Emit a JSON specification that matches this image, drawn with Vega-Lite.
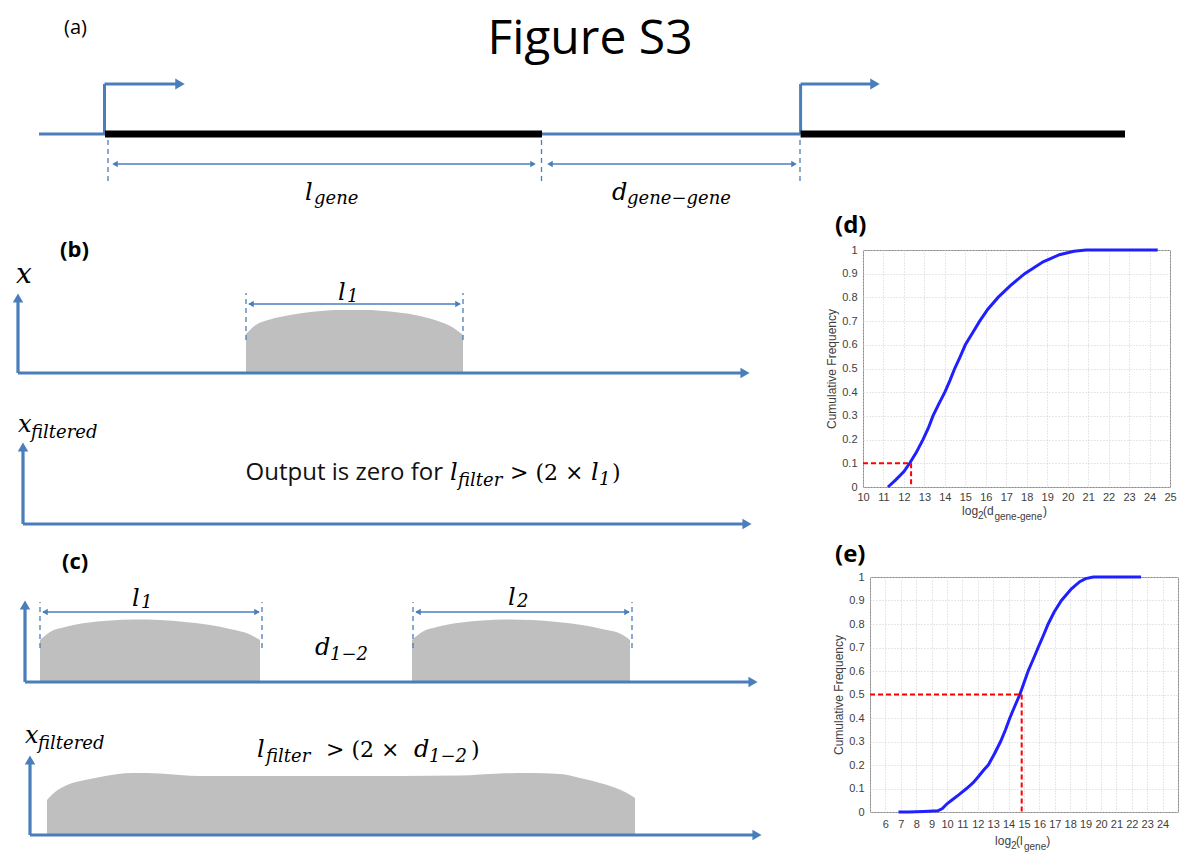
{
  "$schema": "https://vega.github.io/schema/vega-lite/v6.json",
  "padding": 0,
  "background": "white",
  "spacing": 0,
  "bounds": "flush",
  "config": {"view": {"stroke": null}},
  "datasets": {
    "segA": [
      {"x": 3.9, "x2": 10.5, "y": 11.6, "y2": 11.6, "kind": "dna"},
      {"x": 54.2, "x2": 80.06, "y": 11.6, "y2": 11.6, "kind": "dna"},
      {"x": 10.5, "x2": 54.2, "y": 11.6, "y2": 11.6, "kind": "gene"},
      {"x": 80.06, "x2": 112.5, "y": 11.6, "y2": 11.6, "kind": "gene"},
      {"x": 10.45, "x2": 10.45, "y": 11.6, "y2": 16.6, "kind": "promoter"},
      {"x": 10.45, "x2": 17.6, "y": 16.6, "y2": 16.6, "kind": "promoter"},
      {"x": 80.06, "x2": 80.06, "y": 11.6, "y2": 16.6, "kind": "promoter"},
      {"x": 80.06, "x2": 87.1, "y": 16.6, "y2": 16.6, "kind": "promoter"},
      {"x": 10.8, "x2": 10.8, "y": 11.0, "y2": 6.6, "kind": "guide"},
      {"x": 54.15, "x2": 54.15, "y": 11.0, "y2": 6.6, "kind": "guide"},
      {"x": 80.0, "x2": 80.0, "y": 11.0, "y2": 6.6, "kind": "guide"},
      {"x": 11.4, "x2": 53.4, "y": 8.6, "y2": 8.6, "kind": "dim"},
      {"x": 54.9, "x2": 79.5, "y": 8.6, "y2": 8.6, "kind": "dim"}
    ],
    "headA": [
      {"x": 18.0, "y": 16.6, "dir": "right", "kind": "big"},
      {"x": 87.5, "y": 16.6, "dir": "right", "kind": "big"},
      {"x": 11.5, "y": 8.6, "dir": "left", "kind": "small"},
      {"x": 53.3, "y": 8.6, "dir": "right", "kind": "small"},
      {"x": 55.0, "y": 8.6, "dir": "left", "kind": "small"},
      {"x": 79.4, "y": 8.6, "dir": "right", "kind": "small"}
    ],
    "txtA": [
      {"x": 7.55, "y": 21.6, "t": "(a)", "kind": "panel"},
      {"x": 59.0, "y": 19.6, "t": "Figure S3", "kind": "heading"},
      {"x": 30.5, "y": 5.0, "t": "l", "kind": "main"},
      {"x": 31.4, "y": 4.6, "t": "gene", "kind": "sub"},
      {"x": 61.2, "y": 5.0, "t": "d", "kind": "main"},
      {"x": 62.7, "y": 4.6, "t": "gene−gene", "kind": "sub"}
    ],
    "segBC": [
      {"x": 1.8, "x2": 1.8, "y": 48.1, "y2": 55.3, "kind": "axis"},
      {"x": 1.8, "x2": 74.3, "y": 48.1, "y2": 48.1, "kind": "axis"},
      {"x": 2.3, "x2": 2.3, "y": 33.0, "y2": 40.4, "kind": "axis"},
      {"x": 2.3, "x2": 74.5, "y": 33.0, "y2": 33.0, "kind": "axis"},
      {"x": 2.5, "x2": 2.5, "y": 17.2, "y2": 24.6, "kind": "axis"},
      {"x": 2.5, "x2": 75.1, "y": 17.2, "y2": 17.2, "kind": "axis"},
      {"x": 3.0, "x2": 3.0, "y": 1.9, "y2": 9.1, "kind": "axis"},
      {"x": 3.0, "x2": 75.5, "y": 1.9, "y2": 1.9, "kind": "axis"},
      {"x": 24.6, "x2": 24.6, "y": 51.4, "y2": 56.1, "kind": "guide"},
      {"x": 46.3, "x2": 46.3, "y": 51.4, "y2": 56.1, "kind": "guide"},
      {"x": 4.0, "x2": 4.0, "y": 20.6, "y2": 25.2, "kind": "guide"},
      {"x": 26.2, "x2": 26.2, "y": 20.6, "y2": 25.2, "kind": "guide"},
      {"x": 41.3, "x2": 41.3, "y": 20.6, "y2": 25.2, "kind": "guide"},
      {"x": 63.2, "x2": 63.2, "y": 20.6, "y2": 25.2, "kind": "guide"},
      {"x": 24.9, "x2": 46.0, "y": 55.0, "y2": 55.0, "kind": "dim"},
      {"x": 4.3, "x2": 25.9, "y": 24.2, "y2": 24.2, "kind": "dim"},
      {"x": 41.6, "x2": 62.9, "y": 24.2, "y2": 24.2, "kind": "dim"}
    ],
    "headBC": [
      {"x": 1.8, "y": 55.6, "dir": "up", "kind": "big"},
      {"x": 74.5, "y": 48.1, "dir": "right", "kind": "big"},
      {"x": 2.3, "y": 40.7, "dir": "up", "kind": "big"},
      {"x": 74.7, "y": 33.0, "dir": "right", "kind": "big"},
      {"x": 2.5, "y": 24.9, "dir": "up", "kind": "big"},
      {"x": 75.3, "y": 17.2, "dir": "right", "kind": "big"},
      {"x": 3.0, "y": 9.4, "dir": "up", "kind": "big"},
      {"x": 75.7, "y": 1.9, "dir": "right", "kind": "big"},
      {"x": 25.1, "y": 55.0, "dir": "left", "kind": "small"},
      {"x": 45.8, "y": 55.0, "dir": "right", "kind": "small"},
      {"x": 4.5, "y": 24.2, "dir": "left", "kind": "small"},
      {"x": 25.7, "y": 24.2, "dir": "right", "kind": "small"},
      {"x": 41.8, "y": 24.2, "dir": "left", "kind": "small"},
      {"x": 62.7, "y": 24.2, "dir": "right", "kind": "small"}
    ],
    "bumps": [
      {"bump": "b1", "x": 24.6, "y": 52.0, "base": 48.1},
      {"bump": "b1", "x": 25.5, "y": 52.85, "base": 48.1},
      {"bump": "b1", "x": 27.0, "y": 53.45, "base": 48.1},
      {"bump": "b1", "x": 29.0, "y": 53.9, "base": 48.1},
      {"bump": "b1", "x": 31.5, "y": 54.25, "base": 48.1},
      {"bump": "b1", "x": 34.0, "y": 54.4, "base": 48.1},
      {"bump": "b1", "x": 36.5, "y": 54.4, "base": 48.1},
      {"bump": "b1", "x": 39.0, "y": 54.25, "base": 48.1},
      {"bump": "b1", "x": 41.5, "y": 53.9, "base": 48.1},
      {"bump": "b1", "x": 43.5, "y": 53.4, "base": 48.1},
      {"bump": "b1", "x": 45.2, "y": 52.7, "base": 48.1},
      {"bump": "b1", "x": 46.3, "y": 51.9, "base": 48.1},
      {"bump": "c1", "x": 4.0, "y": 21.4, "base": 17.2},
      {"bump": "c1", "x": 5.0, "y": 22.2, "base": 17.2},
      {"bump": "c1", "x": 6.5, "y": 22.7, "base": 17.2},
      {"bump": "c1", "x": 8.5, "y": 23.1, "base": 17.2},
      {"bump": "c1", "x": 11.0, "y": 23.35, "base": 17.2},
      {"bump": "c1", "x": 13.5, "y": 23.45, "base": 17.2},
      {"bump": "c1", "x": 16.0, "y": 23.4, "base": 17.2},
      {"bump": "c1", "x": 18.5, "y": 23.2, "base": 17.2},
      {"bump": "c1", "x": 21.0, "y": 22.9, "base": 17.2},
      {"bump": "c1", "x": 23.0, "y": 22.5, "base": 17.2},
      {"bump": "c1", "x": 25.0, "y": 21.95, "base": 17.2},
      {"bump": "c1", "x": 26.0, "y": 21.4, "base": 17.2},
      {"bump": "c2", "x": 41.2, "y": 21.4, "base": 17.2},
      {"bump": "c2", "x": 42.2, "y": 22.2, "base": 17.2},
      {"bump": "c2", "x": 43.7, "y": 22.7, "base": 17.2},
      {"bump": "c2", "x": 45.7, "y": 23.1, "base": 17.2},
      {"bump": "c2", "x": 48.2, "y": 23.35, "base": 17.2},
      {"bump": "c2", "x": 50.7, "y": 23.45, "base": 17.2},
      {"bump": "c2", "x": 53.2, "y": 23.4, "base": 17.2},
      {"bump": "c2", "x": 55.7, "y": 23.2, "base": 17.2},
      {"bump": "c2", "x": 58.2, "y": 22.9, "base": 17.2},
      {"bump": "c2", "x": 60.2, "y": 22.5, "base": 17.2},
      {"bump": "c2", "x": 62.2, "y": 21.95, "base": 17.2},
      {"bump": "c2", "x": 63.0, "y": 21.4, "base": 17.2},
      {"bump": "c3", "x": 4.7, "y": 5.4, "base": 1.9},
      {"bump": "c3", "x": 5.5, "y": 6.2, "base": 1.9},
      {"bump": "c3", "x": 6.7, "y": 6.9, "base": 1.9},
      {"bump": "c3", "x": 8.5, "y": 7.4, "base": 1.9},
      {"bump": "c3", "x": 10.0, "y": 7.7, "base": 1.9},
      {"bump": "c3", "x": 13.3, "y": 8.1, "base": 1.9},
      {"bump": "c3", "x": 16.0, "y": 8.05, "base": 1.9},
      {"bump": "c3", "x": 18.0, "y": 7.9, "base": 1.9},
      {"bump": "c3", "x": 20.0, "y": 7.8, "base": 1.9},
      {"bump": "c3", "x": 30.0, "y": 7.8, "base": 1.9},
      {"bump": "c3", "x": 40.0, "y": 7.8, "base": 1.9},
      {"bump": "c3", "x": 46.0, "y": 7.85, "base": 1.9},
      {"bump": "c3", "x": 50.0, "y": 8.05, "base": 1.9},
      {"bump": "c3", "x": 53.0, "y": 8.1, "base": 1.9},
      {"bump": "c3", "x": 56.0, "y": 8.0, "base": 1.9},
      {"bump": "c3", "x": 58.0, "y": 7.6, "base": 1.9},
      {"bump": "c3", "x": 60.0, "y": 7.1, "base": 1.9},
      {"bump": "c3", "x": 61.3, "y": 6.7, "base": 1.9},
      {"bump": "c3", "x": 62.5, "y": 6.2, "base": 1.9},
      {"bump": "c3", "x": 63.5, "y": 5.6, "base": 1.9}
    ],
    "txtBC": [
      {"x": 6.0, "y": 59.7, "t": "(b)", "kind": "bold"},
      {"x": 6.2, "y": 28.5, "t": "(c)", "kind": "bold"},
      {"x": 1.6, "y": 57.1, "t": "x", "kind": "var"},
      {"x": 33.8, "y": 55.4, "t": "l", "kind": "main"},
      {"x": 34.7, "y": 55.2, "t": "1", "kind": "sub"},
      {"x": 1.8, "y": 42.2, "t": "x", "kind": "main"},
      {"x": 3.1, "y": 41.6, "t": "filtered", "kind": "sub"},
      {"x": 44.3, "y": 37.4, "t": "Output is zero for", "kind": "prose"},
      {"x": 45.0, "y": 37.4, "t": "l", "kind": "main"},
      {"x": 45.8, "y": 36.8, "t": "filter", "kind": "sub"},
      {"x": 51.0, "y": 37.4, "t": "> (2 ×", "kind": "rel"},
      {"x": 59.1, "y": 37.4, "t": "l", "kind": "main"},
      {"x": 59.9, "y": 36.9, "t": "1", "kind": "sub"},
      {"x": 61.2, "y": 37.4, "t": ")", "kind": "rel"},
      {"x": 13.2, "y": 24.8, "t": "l", "kind": "main"},
      {"x": 14.1, "y": 24.6, "t": "1", "kind": "sub"},
      {"x": 50.8, "y": 24.9, "t": "l", "kind": "main"},
      {"x": 51.7, "y": 24.7, "t": "2", "kind": "sub"},
      {"x": 31.5, "y": 19.9, "t": "d", "kind": "main"},
      {"x": 33.0, "y": 19.4, "t": "1−2", "kind": "sub"},
      {"x": 2.5, "y": 11.1, "t": "x", "kind": "main"},
      {"x": 3.8, "y": 10.5, "t": "filtered", "kind": "sub"},
      {"x": 25.7, "y": 9.7, "t": "l", "kind": "main"},
      {"x": 26.6, "y": 9.2, "t": "filter", "kind": "sub"},
      {"x": 32.6, "y": 9.7, "t": "> (2 ×", "kind": "rel"},
      {"x": 41.4, "y": 9.7, "t": "d", "kind": "main"},
      {"x": 42.9, "y": 9.2, "t": "1−2", "kind": "sub"},
      {"x": 47.1, "y": 9.7, "t": ")", "kind": "rel"}
    ],
    "curveD": [
      {"x": 11.22, "y": 0}, {"x": 11.6, "y": 0.03}, {"x": 12.0, "y": 0.065}, {"x": 12.28, "y": 0.1},
      {"x": 12.6, "y": 0.145}, {"x": 12.93, "y": 0.2}, {"x": 13.2, "y": 0.25}, {"x": 13.42, "y": 0.3},
      {"x": 13.7, "y": 0.35}, {"x": 14.0, "y": 0.4}, {"x": 14.25, "y": 0.45}, {"x": 14.48, "y": 0.5},
      {"x": 14.75, "y": 0.55}, {"x": 15.0, "y": 0.6}, {"x": 15.35, "y": 0.65}, {"x": 15.7, "y": 0.7},
      {"x": 16.1, "y": 0.75}, {"x": 16.6, "y": 0.8}, {"x": 17.2, "y": 0.85}, {"x": 17.9, "y": 0.9},
      {"x": 18.8, "y": 0.95}, {"x": 19.6, "y": 0.98}, {"x": 20.3, "y": 0.995}, {"x": 20.9, "y": 1.0},
      {"x": 22.5, "y": 1.0}, {"x": 24.4, "y": 1.0}
    ],
    "guideD": [
      {"x": 10, "x2": 12.35, "y": 0.1, "y2": 0.1},
      {"x": 12.35, "x2": 12.35, "y": 0.1, "y2": 0}
    ],
    "txtD": [
      {"x": 14.84, "y": -0.118, "t": "log", "kind": "main"},
      {"x": 15.62, "y": -0.135, "t": "2", "kind": "sub"},
      {"x": 15.86, "y": -0.118, "t": "(d", "kind": "main"},
      {"x": 16.42, "y": -0.139, "t": "gene-gene", "kind": "sub"},
      {"x": 18.8, "y": -0.118, "t": ")", "kind": "main"}
    ],
    "curveE": [
      {"x": 6.85, "y": 0}, {"x": 7.5, "y": 0}, {"x": 8.5, "y": 0.002}, {"x": 9.4, "y": 0.005},
      {"x": 9.7, "y": 0.015}, {"x": 10.0, "y": 0.035}, {"x": 10.3, "y": 0.05}, {"x": 10.8, "y": 0.075},
      {"x": 11.27, "y": 0.1}, {"x": 11.7, "y": 0.125}, {"x": 12.03, "y": 0.15}, {"x": 12.4, "y": 0.18},
      {"x": 12.68, "y": 0.2}, {"x": 13.1, "y": 0.25}, {"x": 13.48, "y": 0.3}, {"x": 13.8, "y": 0.35},
      {"x": 14.08, "y": 0.4}, {"x": 14.4, "y": 0.45}, {"x": 14.73, "y": 0.5}, {"x": 15.0, "y": 0.55},
      {"x": 15.27, "y": 0.6}, {"x": 15.6, "y": 0.65}, {"x": 15.92, "y": 0.7}, {"x": 16.25, "y": 0.75},
      {"x": 16.57, "y": 0.8}, {"x": 16.95, "y": 0.85}, {"x": 17.43, "y": 0.9}, {"x": 18.08, "y": 0.95},
      {"x": 18.62, "y": 0.98}, {"x": 19.0, "y": 0.993}, {"x": 19.5, "y": 1.0}, {"x": 21.0, "y": 1.0},
      {"x": 22.6, "y": 1.0}
    ],
    "guideE": [
      {"x": 5, "x2": 14.85, "y": 0.5, "y2": 0.5},
      {"x": 14.85, "x2": 14.85, "y": 0.5, "y2": 0}
    ],
    "txtE": [
      {"x": 13.12, "y": -0.14, "t": "log", "kind": "main"},
      {"x": 14.16, "y": -0.157, "t": "2", "kind": "sub"},
      {"x": 14.48, "y": -0.14, "t": "(l", "kind": "main"},
      {"x": 15.0, "y": -0.161, "t": "gene", "kind": "sub"},
      {"x": 16.45, "y": -0.14, "t": ")", "kind": "main"}
    ]
  },
  "vconcat": [
    {
      "width": 1184,
      "height": 250,
      "encoding": {
        "x": {"field": "x", "type": "quantitative", "scale": {"domain": [0, 118.4], "nice": false, "zero": false}, "axis": null},
        "y": {"field": "y", "type": "quantitative", "scale": {"domain": [0, 25], "nice": false, "zero": false}, "axis": null}
      },
      "layer": [
        {"data": {"name": "segA"}, "transform": [{"filter": "datum.kind == 'guide'"}], "mark": {"type": "rule", "color": "#4A7EBB", "strokeWidth": 1.3, "strokeDash": [5, 4]}, "encoding": {"x2": {"field": "x2"}, "y2": {"field": "y2"}}},
        {"data": {"name": "segA"}, "transform": [{"filter": "datum.kind == 'dna' || datum.kind == 'promoter'"}], "mark": {"type": "rule", "color": "#4A7EBB", "strokeWidth": 3}, "encoding": {"x2": {"field": "x2"}, "y2": {"field": "y2"}}},
        {"data": {"name": "segA"}, "transform": [{"filter": "datum.kind == 'gene'"}], "mark": {"type": "rule", "color": "#000000", "strokeWidth": 7}, "encoding": {"x2": {"field": "x2"}, "y2": {"field": "y2"}}},
        {"data": {"name": "segA"}, "transform": [{"filter": "datum.kind == 'dim'"}], "mark": {"type": "rule", "color": "#4A7EBB", "strokeWidth": 1.5}, "encoding": {"x2": {"field": "x2"}, "y2": {"field": "y2"}}},
        {"data": {"name": "headA"}, "transform": [{"filter": "datum.kind == 'big'"}], "mark": {"type": "point", "filled": true, "color": "#4A7EBB", "opacity": 1, "size": 120, "strokeWidth": 0},
         "encoding": {"shape": {"field": "dir", "type": "nominal", "scale": {"domain": ["up", "right", "left"], "range": ["triangle-up", "triangle-right", "triangle-left"]}, "legend": null}}},
        {"data": {"name": "headA"}, "transform": [{"filter": "datum.kind == 'small'"}], "mark": {"type": "point", "filled": true, "color": "#4A7EBB", "opacity": 1, "size": 40, "strokeWidth": 0},
         "encoding": {"shape": {"field": "dir", "type": "nominal", "scale": {"domain": ["up", "right", "left"], "range": ["triangle-up", "triangle-right", "triangle-left"]}, "legend": null}}},
        {"data": {"name": "txtA"}, "transform": [{"filter": "datum.kind == 'panel'"}], "mark": {"type": "text", "align": "center", "baseline": "alphabetic", "font": "Open Sans", "fontSize": 20, "color": "#000"}, "encoding": {"text": {"field": "t"}}},
        {"data": {"name": "txtA"}, "transform": [{"filter": "datum.kind == 'heading'"}], "mark": {"type": "text", "align": "center", "baseline": "alphabetic", "font": "Open Sans", "fontSize": 48, "color": "#000"}, "encoding": {"text": {"field": "t"}}},
        {"data": {"name": "txtA"}, "transform": [{"filter": "datum.kind == 'main'"}], "mark": {"type": "text", "align": "left", "baseline": "alphabetic", "font": "DejaVu Serif", "fontStyle": "italic", "fontSize": 24, "color": "#000"}, "encoding": {"text": {"field": "t"}}},
        {"data": {"name": "txtA"}, "transform": [{"filter": "datum.kind == 'sub'"}], "mark": {"type": "text", "align": "left", "baseline": "alphabetic", "font": "DejaVu Serif", "fontStyle": "italic", "fontSize": 18, "color": "#000"}, "encoding": {"text": {"field": "t"}}}
      ]
    },
    {
      "hconcat": [
        {
          "width": 863,
          "height": 604,
          "encoding": {
            "x": {"field": "x", "type": "quantitative", "scale": {"domain": [0, 86.3], "nice": false, "zero": false}, "axis": null},
            "y": {"field": "y", "type": "quantitative", "scale": {"domain": [0, 60.4], "nice": false, "zero": false}, "axis": null}
          },
          "layer": [
            {"data": {"name": "bumps"}, "mark": {"type": "area", "color": "#BFBFBF", "opacity": 1, "interpolate": "monotone"}, "encoding": {"y2": {"field": "base"}, "detail": {"field": "bump"}}},
            {"data": {"name": "segBC"}, "transform": [{"filter": "datum.kind == 'guide'"}], "mark": {"type": "rule", "color": "#4A7EBB", "strokeWidth": 1.3, "strokeDash": [5, 4]}, "encoding": {"x2": {"field": "x2"}, "y2": {"field": "y2"}}},
            {"data": {"name": "segBC"}, "transform": [{"filter": "datum.kind == 'axis'"}], "mark": {"type": "rule", "color": "#4A7EBB", "strokeWidth": 3.2}, "encoding": {"x2": {"field": "x2"}, "y2": {"field": "y2"}}},
            {"data": {"name": "segBC"}, "transform": [{"filter": "datum.kind == 'dim'"}], "mark": {"type": "rule", "color": "#4A7EBB", "strokeWidth": 1.5}, "encoding": {"x2": {"field": "x2"}, "y2": {"field": "y2"}}},
            {"data": {"name": "headBC"}, "transform": [{"filter": "datum.kind == 'big'"}], "mark": {"type": "point", "filled": true, "color": "#4A7EBB", "opacity": 1, "size": 110, "strokeWidth": 0},
             "encoding": {"shape": {"field": "dir", "type": "nominal", "scale": {"domain": ["up", "right", "left"], "range": ["triangle-up", "triangle-right", "triangle-left"]}, "legend": null}}},
            {"data": {"name": "headBC"}, "transform": [{"filter": "datum.kind == 'small'"}], "mark": {"type": "point", "filled": true, "color": "#4A7EBB", "opacity": 1, "size": 40, "strokeWidth": 0},
             "encoding": {"shape": {"field": "dir", "type": "nominal", "scale": {"domain": ["up", "right", "left"], "range": ["triangle-up", "triangle-right", "triangle-left"]}, "legend": null}}},
            {"data": {"name": "txtBC"}, "transform": [{"filter": "datum.kind == 'bold'"}], "mark": {"type": "text", "align": "left", "baseline": "alphabetic", "font": "Open Sans", "fontWeight": "bold", "fontSize": 22, "color": "#000"}, "encoding": {"text": {"field": "t"}}},
            {"data": {"name": "txtBC"}, "transform": [{"filter": "datum.kind == 'var'"}], "mark": {"type": "text", "align": "left", "baseline": "alphabetic", "font": "DejaVu Serif", "fontStyle": "italic", "fontSize": 28, "color": "#000"}, "encoding": {"text": {"field": "t"}}},
            {"data": {"name": "txtBC"}, "transform": [{"filter": "datum.kind == 'main'"}], "mark": {"type": "text", "align": "left", "baseline": "alphabetic", "font": "DejaVu Serif", "fontStyle": "italic", "fontSize": 24, "color": "#000"}, "encoding": {"text": {"field": "t"}}},
            {"data": {"name": "txtBC"}, "transform": [{"filter": "datum.kind == 'sub'"}], "mark": {"type": "text", "align": "left", "baseline": "alphabetic", "font": "DejaVu Serif", "fontStyle": "italic", "fontSize": 18, "color": "#000"}, "encoding": {"text": {"field": "t"}}},
            {"data": {"name": "txtBC"}, "transform": [{"filter": "datum.kind == 'rel'"}], "mark": {"type": "text", "align": "left", "baseline": "alphabetic", "font": "DejaVu Serif", "fontSize": 22, "color": "#000"}, "encoding": {"text": {"field": "t"}}},
            {"data": {"name": "txtBC"}, "transform": [{"filter": "datum.kind == 'prose'"}], "mark": {"type": "text", "align": "right", "baseline": "alphabetic", "font": "Open Sans", "fontSize": 24, "color": "#111"}, "encoding": {"text": {"field": "t"}}}
          ]
        },
        {
          "vconcat": [
            {
              "width": 307,
              "height": 237,
              "view": {"stroke": "#8a8a8a"},
              "title": {"text": "(d)", "anchor": "start", "frame": "group", "dx": -28, "offset": -18, "baseline": "bottom", "font": "Open Sans", "fontSize": 24, "fontWeight": "bold", "color": "#000"},
              "encoding": {
                "x": {"field": "x", "type": "quantitative", "scale": {"domain": [10, 25], "nice": false, "zero": false},
                      "axis": {"values": [10, 11, 12, 13, 14, 15, 16, 17, 18, 19, 20, 21, 22, 23, 24, 25], "title": null, "grid": true, "gridColor": "#cfcfcf", "gridDash": [1, 2], "ticks": false, "domain": false, "labelFont": "Liberation Sans", "labelFontSize": 11, "labelColor": "#404040", "labelPadding": 4, "labelOverlap": false, "labelFlush": false}},
                "y": {"field": "y", "type": "quantitative", "scale": {"domain": [0, 1], "nice": false, "zero": false},
                      "axis": {"values": [0, 0.1, 0.2, 0.3, 0.4, 0.5, 0.6, 0.7, 0.8, 0.9, 1], "format": "~g", "title": "Cumulative Frequency", "titleFont": "Liberation Sans", "titleFontSize": 12, "titleFontWeight": "normal", "titleColor": "#404040", "titlePadding": 3, "grid": true, "gridColor": "#cfcfcf", "gridDash": [1, 2], "ticks": false, "domain": false, "labelFont": "Liberation Sans", "labelFontSize": 11, "labelColor": "#404040", "labelPadding": 6, "labelOverlap": false}}
              },
              "layer": [
                {"data": {"name": "curveD"}, "mark": {"type": "line", "color": "#1f1fff", "strokeWidth": 3}},
                {"data": {"name": "guideD"}, "mark": {"type": "rule", "color": "#ff0000", "strokeWidth": 2, "strokeDash": [5, 3]}, "encoding": {"x2": {"field": "x2"}, "y2": {"field": "y2"}}},
                {"data": {"name": "txtD"}, "transform": [{"filter": "datum.kind == 'main'"}], "mark": {"type": "text", "align": "left", "baseline": "alphabetic", "font": "Liberation Sans", "fontSize": 12, "color": "#404040"}, "encoding": {"text": {"field": "t"}}},
                {"data": {"name": "txtD"}, "transform": [{"filter": "datum.kind == 'sub'"}], "mark": {"type": "text", "align": "left", "baseline": "alphabetic", "font": "Liberation Sans", "fontSize": 10, "color": "#404040"}, "encoding": {"text": {"field": "t"}}}
              ]
            },
            {
              "hconcat": [
                {"width": 1, "height": 1, "data": {"values": [{"a": 1}]}, "mark": {"type": "point", "opacity": 0}, "encoding": {}},
                {
                  "width": 308,
                  "height": 235,
                  "view": {"stroke": "#8a8a8a"},
                  "title": {"text": "(e)", "anchor": "start", "frame": "group", "dx": -35, "offset": -20, "baseline": "bottom", "font": "Open Sans", "fontSize": 24, "fontWeight": "bold", "color": "#000"},
                  "encoding": {
                    "x": {"field": "x", "type": "quantitative", "scale": {"domain": [5, 25], "nice": false, "zero": false},
                          "axis": {"values": [5, 6, 7, 8, 9, 10, 11, 12, 13, 14, 15, 16, 17, 18, 19, 20, 21, 22, 23, 24, 25], "labelExpr": "datum.value == 5 || datum.value == 25 ? '' : datum.label", "title": null, "grid": true, "gridColor": "#cfcfcf", "gridDash": [1, 2], "ticks": false, "domain": false, "labelFont": "Liberation Sans", "labelFontSize": 11, "labelColor": "#404040", "labelPadding": 6, "labelOverlap": false, "labelFlush": false}},
                    "y": {"field": "y", "type": "quantitative", "scale": {"domain": [0, 1], "nice": false, "zero": false},
                          "axis": {"values": [0, 0.1, 0.2, 0.3, 0.4, 0.5, 0.6, 0.7, 0.8, 0.9, 1], "format": "~g", "title": "Cumulative Frequency", "titleFont": "Liberation Sans", "titleFontSize": 12, "titleFontWeight": "normal", "titleColor": "#404040", "titlePadding": 3, "grid": true, "gridColor": "#cfcfcf", "gridDash": [1, 2], "ticks": false, "domain": false, "labelFont": "Liberation Sans", "labelFontSize": 11, "labelColor": "#404040", "labelPadding": 6, "labelOverlap": false}}
                  },
                  "layer": [
                    {"data": {"name": "curveE"}, "mark": {"type": "line", "color": "#1f1fff", "strokeWidth": 3}},
                    {"data": {"name": "guideE"}, "mark": {"type": "rule", "color": "#ff0000", "strokeWidth": 2, "strokeDash": [5, 3]}, "encoding": {"x2": {"field": "x2"}, "y2": {"field": "y2"}}},
                    {"data": {"name": "txtE"}, "transform": [{"filter": "datum.kind == 'main'"}], "mark": {"type": "text", "align": "left", "baseline": "alphabetic", "font": "Liberation Sans", "fontSize": 12, "color": "#404040"}, "encoding": {"text": {"field": "t"}}},
                    {"data": {"name": "txtE"}, "transform": [{"filter": "datum.kind == 'sub'"}], "mark": {"type": "text", "align": "left", "baseline": "alphabetic", "font": "Liberation Sans", "fontSize": 10, "color": "#404040"}, "encoding": {"text": {"field": "t"}}}
                  ]
                }
              ],
              "spacing": 6,
              "bounds": "flush"
            }
          ],
          "spacing": 90,
          "bounds": "flush"
        }
      ],
      "spacing": 0,
      "bounds": "flush"
    }
  ]
}
